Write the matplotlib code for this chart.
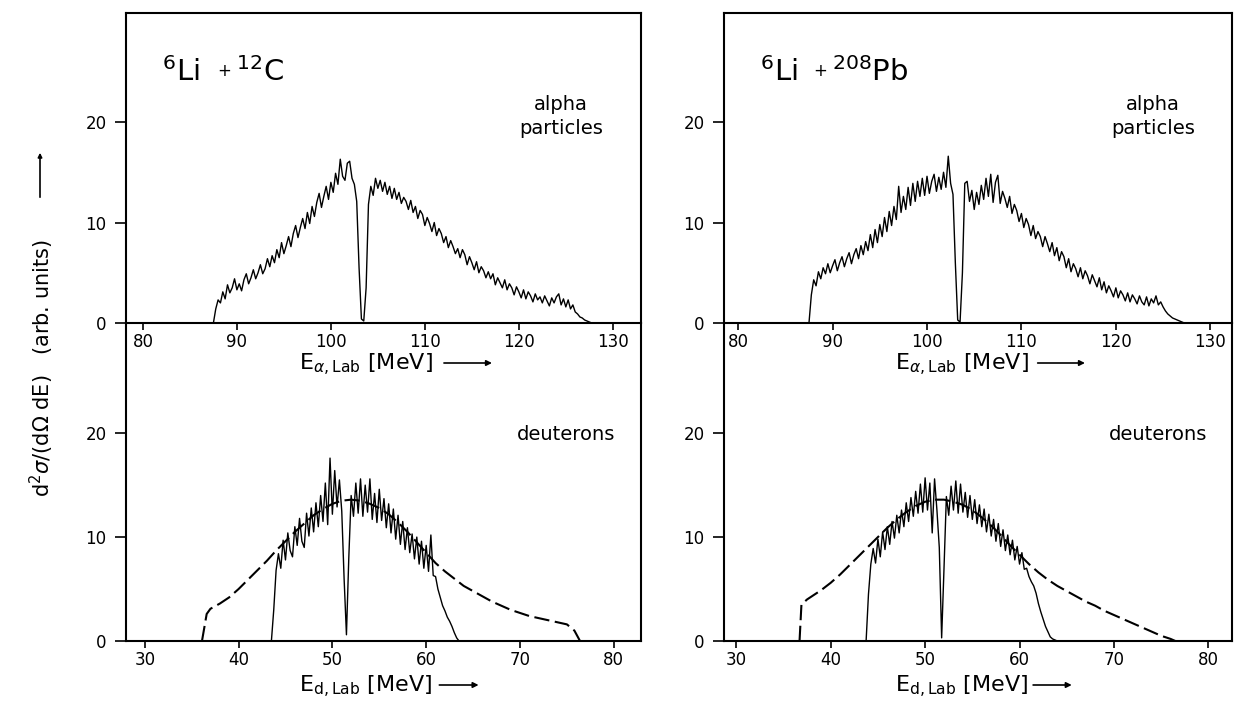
import numpy as np
import matplotlib
matplotlib.use('Agg')
import matplotlib.pyplot as plt
from matplotlib.patches import FancyArrowPatch

plt.rcParams['font.family'] = ['DejaVu Sans']
plt.rcParams['mathtext.fontset'] = 'dejavusans'
plt.rcParams['lines.scale_dashes'] = False

W, H = 1234, 702

# ---------------- data ----------------
alpha_start = 87.5
alpha_step = 0.25
alpha_C = [
    0.0, 1.4, 2.3, 2.0, 3.1, 2.4, 3.8, 3.0, 3.5, 4.4, 3.3, 3.9, 3.2, 4.3, 4.9, 3.9, 4.5, 5.3, 4.4, 5.0,
    5.8, 4.9, 5.4, 6.4, 5.6, 6.7, 6.0, 7.3, 6.5, 8.0, 6.9, 7.7, 8.6, 7.6, 8.9, 9.7, 8.5, 9.5, 10.4, 9.4,
    11.0, 9.9, 11.6, 10.6, 12.0, 12.9, 11.5, 12.6, 13.6, 12.3, 14.0, 13.0, 14.9, 13.8, 16.3, 14.6, 14.2, 15.9, 16.1, 14.4,
    13.8, 12.1, 5.5, 0.4, 0.2, 3.5, 11.8, 13.6, 12.7, 14.4, 13.4, 14.2, 13.1, 14.0, 12.8, 13.6, 12.4, 13.4, 12.3, 13.0,
    11.9, 12.5, 12.1, 11.3, 12.2, 11.0, 11.6, 10.4, 11.2, 10.8, 9.7, 10.5, 9.9, 9.1, 10.0, 8.7, 9.4, 8.9, 8.0, 8.6,
    7.5, 8.2, 7.6, 6.9, 7.4, 6.5, 7.3, 6.8, 5.8, 6.6, 6.0, 5.3, 6.1, 5.0, 5.6, 5.2, 4.5, 5.1, 4.4, 4.9,
    3.8, 4.5, 4.0, 3.5, 4.3, 3.3, 3.9, 3.5, 2.8, 3.6, 3.1, 2.5, 3.3, 2.4, 3.1, 2.7, 2.1, 2.9, 2.3, 2.6,
    2.0, 2.7, 2.2, 1.7, 2.5, 2.0, 2.6, 2.9, 1.8, 2.4, 1.6, 2.3, 1.4, 1.8, 1.1, 0.9, 0.6, 0.5, 0.3, 0.2,
    0.1, 0.0,
]
alpha_Pb = [
    0.0, 2.8, 4.3, 3.7, 5.1, 4.4, 5.5, 4.9, 5.9, 5.0, 5.7, 6.3, 5.2, 6.0, 6.6, 5.6, 6.4, 7.0, 5.9, 6.8,
    7.4, 6.4, 7.7, 6.8, 8.1, 7.2, 8.8, 7.5, 9.3, 8.0, 9.8, 8.6, 10.5, 9.1, 11.1, 9.7, 11.6, 10.3, 13.6, 11.0,
    12.6, 11.3, 13.5, 11.7, 13.9, 12.1, 14.1, 12.6, 14.4, 12.7, 14.6, 12.9, 14.1, 14.8, 13.1, 14.5, 13.3, 15.0, 13.5, 16.6,
    13.9, 12.8, 6.0, 0.3, 0.1, 5.0, 13.9, 14.1, 12.1, 13.2, 11.3, 13.0, 11.8, 13.7, 12.3, 14.4, 12.6, 14.8, 12.0, 14.0,
    14.7, 11.9, 13.1, 12.4, 11.5, 12.6, 10.9, 11.8, 11.2, 10.1, 10.9, 9.5, 10.4, 9.8, 8.7, 9.7, 8.4, 9.1, 8.6, 7.6,
    8.6, 7.9, 7.1, 8.0, 6.7, 7.5, 6.2, 7.1, 6.6, 5.5, 6.4, 5.1, 5.9, 5.4, 4.6, 5.5, 4.4, 5.2, 4.7, 3.9,
    4.8, 4.2, 3.6, 4.5, 3.3, 4.1, 3.0, 3.7, 3.2, 2.6, 3.5, 2.5, 3.2, 2.8, 2.2, 3.0, 2.1, 2.8, 2.4, 1.9,
    2.7, 2.1, 1.8, 2.6, 1.7, 2.4, 2.0, 2.7, 1.8, 2.1, 1.6, 1.2, 0.9, 0.7, 0.5, 0.4, 0.3, 0.2, 0.1, 0.0,
]

deut_step = 0.25
deut_C_start = 43.5
deut_C = [
    0.0, 3.0, 6.8, 8.4, 7.0, 9.7, 7.8, 10.4, 8.7, 8.1, 11.0, 9.2, 11.8, 9.6, 9.0, 12.3, 10.1, 12.8, 10.5, 13.3,
    11.0, 14.0, 11.5, 15.2, 11.2, 17.6, 12.2, 16.4, 12.9, 15.5, 12.5, 6.0, 0.6, 8.0, 14.0, 12.0, 15.2, 12.3, 15.6, 12.0,
    15.0, 12.4, 15.6, 11.7, 14.2, 11.4, 14.6, 11.6, 13.7, 10.9, 13.2, 10.4, 12.7, 9.8, 12.1, 9.3, 11.5, 8.8, 10.9, 8.5,
    10.3, 7.9, 10.0, 7.4, 9.6, 7.0, 9.2, 6.7, 10.2, 6.3, 6.2, 5.0, 4.2, 3.4, 2.9, 2.3, 1.9, 1.4, 0.8, 0.3,
    0.0,
]
deut_Pb_start = 43.75
deut_Pb = [
    0.0, 4.5, 7.4, 8.9, 7.5, 9.8, 8.1, 10.5, 8.8, 11.0, 9.3, 11.5, 9.9, 12.1, 10.4, 12.6, 11.0, 13.3, 11.5, 13.8,
    12.0, 14.4, 12.3, 15.1, 12.4, 15.7, 12.6, 15.2, 10.4, 15.6, 12.6, 9.0, 0.3, 7.0, 13.9, 12.1, 14.9, 12.6, 15.4, 12.3,
    15.1, 12.4, 14.3, 11.9, 14.0, 11.7, 13.6, 11.3, 13.1, 11.0, 12.7, 10.5, 12.2, 10.1, 11.7, 9.6, 11.3, 9.1, 10.7, 8.7,
    10.2, 8.3, 9.7, 7.8, 9.1, 7.4, 8.5, 6.9, 7.0, 6.2, 5.7, 5.3, 4.6, 3.6, 2.8, 2.1, 1.4, 0.9, 0.4, 0.2,
    0.1, 0.0,
]

calc_C_E = [36.1, 36.6, 37, 38, 39, 40, 41, 42, 43, 44, 45, 46, 47, 48, 49, 50, 51, 52, 53, 54, 55,
            56, 57, 58, 59, 60, 61, 62, 63, 64, 65, 66, 67, 68, 69, 70, 71, 72, 73, 74, 75, 75.8, 76.4]
calc_C = [0, 2.6, 3.1, 3.6, 4.2, 5.0, 5.9, 6.8, 7.7, 8.7, 9.6, 10.5, 11.3, 12.1, 12.7, 13.2, 13.5, 13.6,
          13.5, 13.2, 12.8, 12.2, 11.4, 10.5, 9.5, 8.5, 7.5, 6.7, 6.0, 5.3, 4.8, 4.3, 3.8, 3.4, 3.0, 2.7,
          2.4, 2.2, 2.0, 1.8, 1.6, 1.0, 0.0]
calc_Pb_E = [36.7, 36.9, 37.5, 38, 39, 40, 41, 42, 43, 44, 45, 46, 47, 48, 49, 50, 51, 52, 53, 54, 55,
             56, 57, 58, 59, 60, 61, 62, 63, 64, 65, 66, 67, 68, 69, 70, 71, 72, 73, 74, 75, 76, 76.5]
calc_Pb = [0, 3.5, 4.0, 4.3, 4.9, 5.6, 6.4, 7.3, 8.2, 9.1, 10.0, 10.9, 11.7, 12.4, 13.0, 13.4, 13.6,
           13.6, 13.4, 13.1, 12.6, 11.9, 11.1, 10.2, 9.2, 8.3, 7.4, 6.6, 5.9, 5.3, 4.8, 4.3, 3.8, 3.4,
           2.9, 2.5, 2.1, 1.7, 1.3, 0.9, 0.5, 0.2, 0.0]

alpha_ticks = [80, 90, 100, 110, 120, 130]
deut_ticks = [30, 40, 50, 60, 70, 80]
y_ticks = [0, 10, 20]

projectile = r"$^{6}$Li"
targets = [r"$^{12}$C", r"$^{208}$Pb"]
alpha_text = "alpha\nparticles"
deut_text = "deuterons"
xlabel_alpha = r"E$_{\alpha,\mathrm{Lab}}$ [MeV]"
xlabel_deut = r"E$_{\mathrm{d,Lab}}$ [MeV]"
ylabel = r"d$^2\sigma$/(d$\Omega$ dE)   (arb. units)"

# ---------------- figure ----------------
fig = plt.figure(figsize=(W / 100, H / 100), dpi=100)


def add_ax(x0, x1, y0, y1):
    return fig.add_axes([x0 / W, 1 - y1 / H, (x1 - x0) / W, (y1 - y0) / H])


def style(ax, xticks, top):
    ax.set_xticks(xticks)
    ax.set_yticks(y_ticks)
    ax.tick_params(axis='x', direction='out', length=5, width=1.2, labelsize=12, pad=2)
    ax.tick_params(axis='y', direction='out', length=8, width=1.2, labelsize=12, pad=6)
    for s in ax.spines.values():
        s.set_linewidth(1.5)
    if not top:
        ax.spines['top'].set_visible(False)
    ax.patch.set_alpha(0)


def arrow(p0, p1, ms=8):
    fig.add_artist(FancyArrowPatch((p0[0] / W, 1 - p0[1] / H), (p1[0] / W, 1 - p1[1] / H),
                                   transform=fig.transFigure, arrowstyle='-|>',
                                   mutation_scale=ms, lw=1.2, color='black'))


cols = [(126, 641), (724, 1232)]
alpha_xlims = [(78.2, 133.0), (78.5, 132.3)]
deut_xlims = [(28.0, 82.9), (28.7, 82.5)]
alpha_data = [alpha_C, alpha_Pb]
deut_data = [(deut_C_start, deut_C), (deut_Pb_start, deut_Pb)]
calc_data = [(calc_C_E, calc_C), (calc_Pb_E, calc_Pb)]
plus_x = [0.19, 0.19]
target_x = [0.213, 0.213]

for i, (x0, x1) in enumerate(cols):
    axb = add_ax(x0, x1, 323, 641)
    axt = add_ax(x0, x1, 13, 323)

    # top: alpha particles
    ea = alpha_start + alpha_step * np.arange(len(alpha_data[i]))
    axt.plot(ea, alpha_data[i], color='black', lw=1.0)
    axt.set_xlim(*alpha_xlims[i])
    axt.set_ylim(0, 30.85)
    style(axt, alpha_ticks, True)
    axt.text(0.07, 0.78, projectile, transform=axt.transAxes, fontsize=21,
             ha='left', va='baseline')
    axt.text(plus_x[i], 0.797, "+", transform=axt.transAxes, fontsize=12,
             ha='center', va='baseline')
    axt.text(target_x[i], 0.78, targets[i], transform=axt.transAxes, fontsize=21,
             ha='left', va='baseline')
    axt.text(0.845, 0.665, alpha_text, transform=axt.transAxes, fontsize=14,
             ha='center', va='center', linespacing=1.35)

    # bottom: deuterons
    st, vals = deut_data[i]
    ed = st + deut_step * np.arange(len(vals))
    axb.plot(ed, vals, color='black', lw=1.0)
    ce, cv = calc_data[i]
    axb.plot(ce, cv, color='black', lw=1.5, linestyle=(0, (11, 4)))
    axb.set_xlim(*deut_xlims[i])
    axb.set_ylim(0, 30.6)
    style(axb, deut_ticks, False)
    axb.text(0.855, 0.648, deut_text, transform=axb.transAxes, fontsize=14,
             ha='center', va='center')

    # x labels with arrows
    w = x1 - x0
    fig.text((x0 + 0.336 * w) / W, 1 - 370 / H, xlabel_alpha, fontsize=16,
             ha='left', va='baseline')
    arrow((x0 + 0.612 * w, 363), (x0 + 0.716 * w, 363))
    fig.text((x0 + 0.336 * w) / W, 1 - 692 / H, xlabel_deut, fontsize=16,
             ha='left', va='baseline')
    arrow((x0 + 0.603 * w, 685), (x0 + 0.69 * w, 685))

# y label
fig.text(42 / W, 1 - 497 / H, ylabel, rotation=90, fontsize=15, ha='center', va='bottom')
arrow((40, 200), (40, 150), ms=6)

fig.savefig('out.png', dpi=100)
